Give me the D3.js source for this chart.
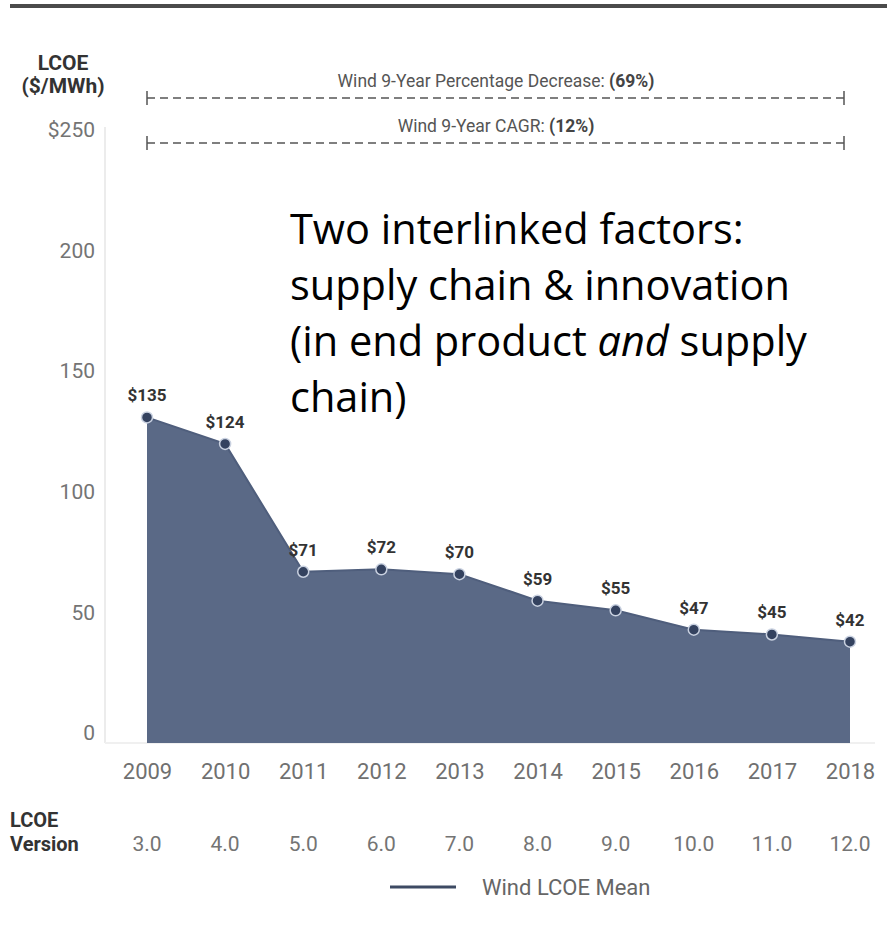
<!DOCTYPE html>
<html>
<head>
<meta charset="utf-8">
<script src="https://cdn.jsdelivr.net/npm/d3@7"></script>
<style>
  html, body { margin: 0; padding: 0; background: #fff; }
  svg { display: block; }
  text { font-family: Roboto, "Liberation Sans", sans-serif; }
</style>
</head>
<body>
<svg id="chart" width="887" height="926"></svg>
<script>
// chart data
const years = [2009, 2010, 2011, 2012, 2013, 2014, 2015, 2016, 2017, 2018];
const lcoeMean = [135, 124, 71, 72, 70, 59, 55, 47, 45, 42];
const lcoeVersions = ["3.0", "4.0", "5.0", "6.0", "7.0", "8.0", "9.0", "10.0", "11.0", "12.0"];
const yTickValues = [0, 50, 100, 150, 200, 250];
const annotations = [
  { label: "Wind 9-Year Percentage Decrease: ", value: "(69%)" },
  { label: "Wind 9-Year CAGR: ", value: "(12%)" }
];
const overlayLines = [
  [{ t: "Two interlinked factors:" }],
  [{ t: "supply chain & innovation" }],
  [{ t: "(in end product " }, { t: "and", italic: true }, { t: " supply" }],
  [{ t: "chain)" }]
];

const svg = d3.select("#chart");

const x = d3.scalePoint().domain(years).range([147, 850]);
const y = d3.scaleLinear().domain([0, 250]).range([743, 140]);

// top rule
svg.append("line")
  .attr("x1", 10).attr("x2", 887).attr("y1", 6).attr("y2", 6)
  .attr("stroke", "#4b4b4b").attr("stroke-width", 4);

// faint axis lines
svg.append("line")
  .attr("x1", 105).attr("x2", 105).attr("y1", 127).attr("y2", y(0))
  .attr("stroke", "#ececec").attr("stroke-width", 2);
svg.append("line")
  .attr("x1", 105).attr("x2", 875).attr("y1", y(0)).attr("y2", y(0))
  .attr("stroke", "#f0f0f0").attr("stroke-width", 2);

// y axis labels
const yAxis = d3.axisLeft(y)
  .tickValues(yTickValues)
  .tickSize(0)
  .tickFormat(d => d === 250 ? "$" + d : d);
const yg = svg.append("g").attr("transform", "translate(95,-10)").call(yAxis);
yg.select(".domain").remove();
yg.selectAll("text")
  .attr("x", 0)
  .style("font-family", "Roboto")
  .style("font-size", "21px")
  .attr("fill", "#747474");

// header
svg.append("text").attr("x", 63).attr("y", 70).attr("text-anchor", "middle")
  .style("font-size", "21px").style("font-weight", "bold").attr("fill", "#333")
  .text("LCOE");
svg.append("text").attr("x", 63).attr("y", 93).attr("text-anchor", "middle")
  .style("font-size", "21px").style("font-weight", "bold").attr("fill", "#333")
  .text("($/MWh)");

// annotation dashed spans
const annY = [98, 143];
annotations.forEach((a, i) => {
  const g = svg.append("g");
  g.append("line")
    .attr("x1", x(2009)).attr("x2", x(2018) - 6)
    .attr("y1", annY[i]).attr("y2", annY[i])
    .attr("stroke", "#555").attr("stroke-width", 1.5)
    .attr("stroke-dasharray", "8,5");
  [x(2009), x(2018) - 6].forEach(px => {
    g.append("line")
      .attr("x1", px).attr("x2", px)
      .attr("y1", annY[i] - 7).attr("y2", annY[i] + 7)
      .attr("stroke", "#555").attr("stroke-width", 1.5);
  });
  const t = g.append("text")
    .attr("x", 496).attr("y", annY[i] - 11)
    .attr("text-anchor", "middle")
    .style("font-size", "17.5px").attr("fill", "#555");
  t.append("tspan").text(a.label);
  t.append("tspan").style("font-weight", "bold").attr("fill", "#444").text(a.value);
});

// area
const area = d3.area()
  .x((d, i) => x(years[i]))
  .y0(y(0))
  .y1(d => y(d));
svg.append("path")
  .datum(lcoeMean)
  .attr("d", area)
  .attr("fill", "#5a6986");

const line = d3.line()
  .x((d, i) => x(years[i]))
  .y(d => y(d));
svg.append("path")
  .datum(lcoeMean)
  .attr("d", line)
  .attr("fill", "none")
  .attr("stroke", "#4f5e7c")
  .attr("stroke-width", 2);

// points
svg.selectAll("circle.pt")
  .data(lcoeMean)
  .join("circle")
  .attr("class", "pt")
  .attr("cx", (d, i) => x(years[i]))
  .attr("cy", d => y(d))
  .attr("r", 5.5)
  .attr("fill", "#34425f")
  .attr("stroke", "#c9d1e0")
  .attr("stroke-width", 1.5);

// point labels
svg.selectAll("text.val")
  .data(lcoeMean)
  .join("text")
  .attr("class", "val")
  .attr("x", (d, i) => x(years[i]))
  .attr("y", d => y(d) - 16)
  .attr("text-anchor", "middle")
  .style("font-size", "17px")
  .style("font-weight", "bold")
  .attr("fill", "#333")
  .text(d => "$" + d);

// x axis years
const xAxis = d3.axisBottom(x).tickSize(0).tickFormat(d => d);
const xg = svg.append("g").attr("transform", "translate(0,760)").call(xAxis);
xg.select(".domain").remove();
xg.selectAll("text")
  .style("font-family", "Roboto")
  .style("font-size", "22px")
  .attr("fill", "#707070");

// LCOE version row
svg.append("text").attr("x", 10).attr("y", 827)
  .style("font-size", "20px").style("font-weight", "bold").attr("fill", "#333")
  .text("LCOE");
svg.append("text").attr("x", 10).attr("y", 851)
  .style("font-size", "20px").style("font-weight", "bold").attr("fill", "#333")
  .text("Version");
svg.selectAll("text.ver")
  .data(lcoeVersions)
  .join("text")
  .attr("class", "ver")
  .attr("x", (d, i) => x(years[i]))
  .attr("y", 851)
  .attr("text-anchor", "middle")
  .style("font-size", "21px")
  .attr("fill", "#747474")
  .text(d => d);

// legend
svg.append("line")
  .attr("x1", 390).attr("x2", 456).attr("y1", 887).attr("y2", 887)
  .attr("stroke", "#3d4a63").attr("stroke-width", 3);
svg.append("text").attr("x", 482).attr("y", 895)
  .style("font-size", "22px").attr("fill", "#666")
  .text("Wind LCOE Mean");

// overlay text
const ov = svg.append("text")
  .style("font-family", "'Open Sans', sans-serif")
  .style("font-size", "41.5px")
  .attr("fill", "#000");
overlayLines.forEach((parts, i) => {
  const ln = ov.append("tspan").attr("x", 290).attr("y", 244 + i * 56);
  parts.forEach(p => {
    ln.append("tspan").style("font-style", p.italic ? "italic" : "normal").text(p.t);
  });
});
</script>
</body>
</html>
